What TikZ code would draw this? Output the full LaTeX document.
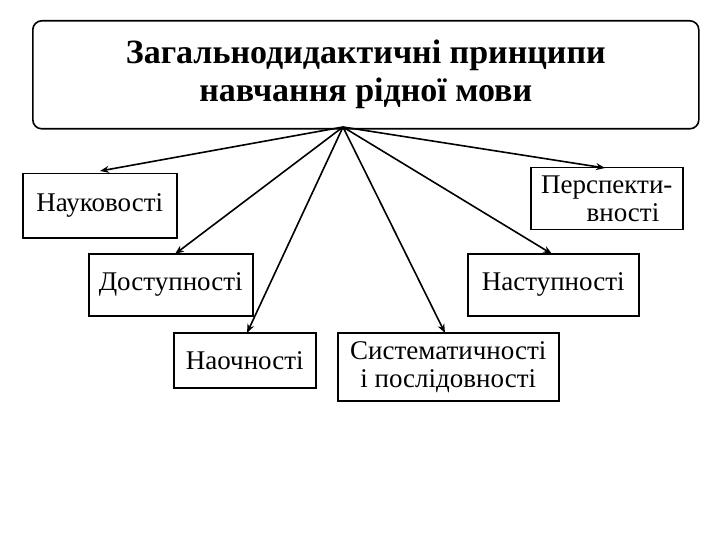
\documentclass[tikz,border=0pt]{standalone}
\usepackage{fontspec}
\setmainfont{Liberation Serif}
\newfontfamily\ser{Liberation Serif}
\usetikzlibrary{arrows.meta}
\begin{document}
\begin{tikzpicture}[x=1pt,y=-1pt,
  box/.style={draw,line width=1.5pt,inner sep=0pt,font=\ser\fontsize{27}{28}\selectfont,align=center},
  arr/.style={line width=1.6pt,-{Stealth[length=9pt,width=7pt]}}]
\useasboundingbox (0,0) rectangle (720,540);
\node[draw,line width=1.6pt,rounded corners=9pt,minimum width=666pt,minimum height=108pt,anchor=north west,inner sep=0pt,align=center,font=\ser\bfseries\fontsize{34}{38}\selectfont] (t) at (32,20) {Загальнодидактичні принципи\\навчання рідної мови};
\coordinate (s) at (343,127);
\node[box,minimum width=154pt,minimum height=64pt,anchor=north west] (a) at (22,173) {Науковості};
\node[box,minimum width=152pt,minimum height=62pt,anchor=north west] (b) at (530,167) {Перспекти-\\\hspace*{1.2em}вності};
\node[box,minimum width=164pt,minimum height=62pt,anchor=north west] (c) at (88,253) {Доступності};
\node[box,minimum width=171pt,minimum height=62pt,anchor=north west] (d) at (467,253) {Наступності};
\node[box,minimum width=142pt,minimum height=55pt,anchor=north west] (e) at (173,332) {Наочності};
\node[box,minimum width=221pt,minimum height=68pt,anchor=north west] (f) at (337,332) {Систематичності\\і послідовності};
\draw[arr] (s) -- ([xshift=78pt,yshift=2pt]a.north west);
\draw[arr] (s) -- ([xshift=75pt,yshift=-1pt]b.north west);
\draw[arr] (s) -- ([xshift=87pt,yshift=-1pt]c.north west);
\draw[arr] (s) -- ([xshift=85pt,yshift=-1pt]d.north west);
\draw[arr] (s) -- ([xshift=74pt,yshift=-1pt]e.north west);
\draw[arr] (s) -- ([xshift=108pt,yshift=-1pt]f.north west);
\end{tikzpicture}
\end{document}
